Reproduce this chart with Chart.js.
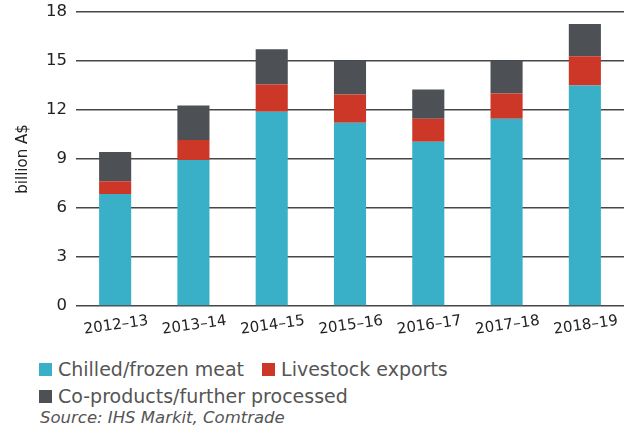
<!DOCTYPE html>
<html>
<head>
<meta charset="utf-8">
<script src="https://cdn.jsdelivr.net/npm/chart.js@4/dist/chart.umd.min.js"></script>
<style>
  html, body { margin: 0; padding: 0; background: #fff; width: 625px; height: 430px; overflow: hidden; font-family: "DejaVu Sans", sans-serif; }
  #wrap { position: absolute; left: 0; top: 0; width: 625px; height: 342px; }
  .row { position: absolute; left: 39px; height: 20px; display: flex; align-items: center; color: #555; font-size: 19px; white-space: nowrap; }
  .item { display: inline-flex; align-items: center; margin-right: 18px; }
  .sw { width: 13px; height: 13px; margin-right: 6px; display: inline-block; }
  #source { position: absolute; left: 40px; top: 408px; color: #555; font-size: 16.5px; font-style: italic; white-space: nowrap; }
</style>
</head>
<body>
<div id="wrap"><canvas id="c" width="625" height="342"></canvas></div>
<div class="row" id="row1" style="top:359px"></div>
<div class="row" id="row2" style="top:386px"></div>
<div id="source">Source: IHS Markit, Comtrade</div>
<script>
const categories = ['2012–13', '2013–14', '2014–15', '2015–16', '2016–17', '2017–18', '2018–19'];
const chilledFrozenMeat = [6.86, 8.94, 11.90, 11.22, 10.05, 11.47, 13.50];
const livestockExports = [0.78, 1.23, 1.66, 1.73, 1.42, 1.54, 1.79];
const coProducts = [1.79, 2.10, 2.16, 2.07, 1.78, 2.01, 1.97];
const seriesNames = ['Chilled/frozen meat', 'Livestock exports', 'Co-products/further processed'];
const seriesColors = ['#3AB0C8', '#CC3727', '#4D5054'];
const yTicks = [0, 3, 6, 9, 12, 15, 18];

const seriesData = [chilledFrozenMeat, livestockExports, coProducts];
const datasets = seriesNames.map((name, i) => ({
  label: name,
  data: seriesData[i],
  backgroundColor: seriesColors[i],
  borderWidth: 0,
  barPercentage: 0.41,
  categoryPercentage: 1.0
}));

new Chart(document.getElementById('c'), {
  type: 'bar',
  data: { labels: categories, datasets },
  options: {
    responsive: false,
    animation: false,
    devicePixelRatio: 1,
    layout: { padding: { top: 12, right: 1, left: 0, bottom: 0 } },
    plugins: { legend: { display: false }, tooltip: { enabled: false } },
    scales: {
      x: {
        stacked: true,
        grid: { display: false, drawTicks: false },
        border: { display: false },
        afterFit: s => { s.height = 36; s.paddingLeft = 0; s.paddingRight = 0; },
        ticks: {
          color: '#222',
          font: { family: 'DejaVu Sans', size: 15 },
          minRotation: 8, maxRotation: 8,
          labelOffset: 33,
          padding: 6
        }
      },
      y: {
        stacked: true,
        min: 0, max: 18,
        afterBuildTicks: s => { s.ticks = yTicks.map(v => ({ value: v })); },
        afterFit: s => { s.width = 76; s.paddingTop = 0; s.paddingBottom = 0; },
        grid: { color: '#474747', lineWidth: 1.5, drawTicks: false },
        border: { display: false },
        ticks: {
          color: '#222',
          font: { family: 'DejaVu Sans', size: 16.5 },
          padding: 9
        },
        title: {
          display: true,
          text: 'billion A$',
          color: '#222',
          font: { family: 'DejaVu Sans', size: 15 },
          padding: { top: 14, bottom: 4 }
        }
      }
    }
  }
});

const rows = [document.getElementById('row1'), document.getElementById('row1'), document.getElementById('row2')];
seriesNames.forEach((name, i) => {
  const it = document.createElement('span');
  it.className = 'item';
  const sw = document.createElement('span');
  sw.className = 'sw';
  sw.style.background = seriesColors[i];
  it.appendChild(sw);
  it.appendChild(document.createTextNode(name));
  rows[i].appendChild(it);
});
</script>
</body>
</html>
